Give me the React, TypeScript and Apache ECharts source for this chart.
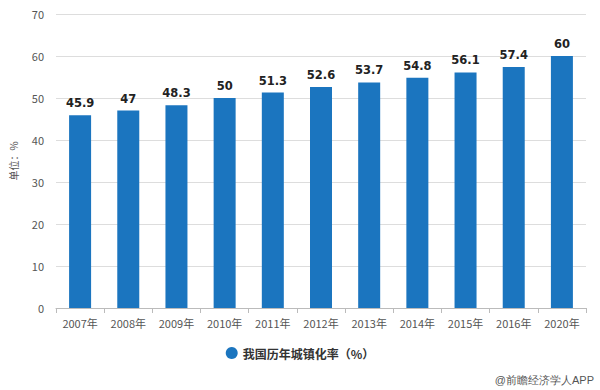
import React, { useEffect, useRef } from "react";
import * as echarts from "echarts";

const categories = ["2007年", "2008年", "2009年", "2010年", "2011年", "2012年", "2013年", "2014年", "2015年", "2016年", "2020年"];
const values = [45.9, 47, 48.3, 50, 51.3, 52.6, 53.7, 54.8, 56.1, 57.4, 60];
const seriesName = "我国历年城镇化率（%）";
const yAxisName = "单位：%";
const sourceText = "@前瞻经济学人APP";

export default function App() {
  const ref = useRef<HTMLDivElement>(null);
  useEffect(() => {
    if (!ref.current) return;
    const chart = echarts.init(ref.current, null, { renderer: "svg" });
    chart.setOption({
      animation: false,
      backgroundColor: "#fff",
      textStyle: { fontFamily: "'Noto Sans CJK SC', 'Noto Sans', sans-serif" },
      grid: { left: 52, right: 14, top: 14, bottom: 82 },
      legend: {
        top: 342,
        left: "center",
        icon: "circle",
        itemWidth: 12,
        itemHeight: 12,
        itemGap: 6,
        textStyle: { fontSize: 12, fontWeight: "bold", color: "#333" },
        data: [seriesName],
      },
      xAxis: {
        type: "category",
        data: categories,
        axisLine: { lineStyle: { color: "#bbb" } },
        axisTick: { show: true, lineStyle: { color: "#bbb" } },
        axisLabel: { color: "#555", fontSize: 11, margin: 9 },
      },
      yAxis: {
        type: "value",
        min: 0,
        max: 70,
        interval: 10,
        name: yAxisName,
        nameLocation: "middle",
        nameGap: 38,
        nameRotate: 90,
        nameTextStyle: { color: "#555", fontSize: 10 },
        axisLine: { show: false },
        axisTick: { show: false },
        axisLabel: { color: "#555", fontSize: 11, margin: 12 },
        splitLine: { lineStyle: { color: "#ddd" } },
      },
      series: [
        {
          name: seriesName,
          type: "bar",
          data: values,
          barWidth: 22,
          itemStyle: { color: "#1b75bf" },
          label: {
            show: true,
            position: "top",
            distance: 6,
            color: "#222",
            fontSize: 11.5,
            fontWeight: "bold",
            fontFamily: "'DejaVu Sans', sans-serif",
          },
        },
      ],
      graphic: [
        {
          type: "text",
          right: 6,
          bottom: 5,
          style: { text: sourceText, fill: "#555", fontSize: 11 },
        },
      ],
    });
    return () => chart.dispose();
  }, []);
  return <div ref={ref} style={{ position: "absolute", left: 0, top: 0, width: 600, height: 390 }} />;
}
